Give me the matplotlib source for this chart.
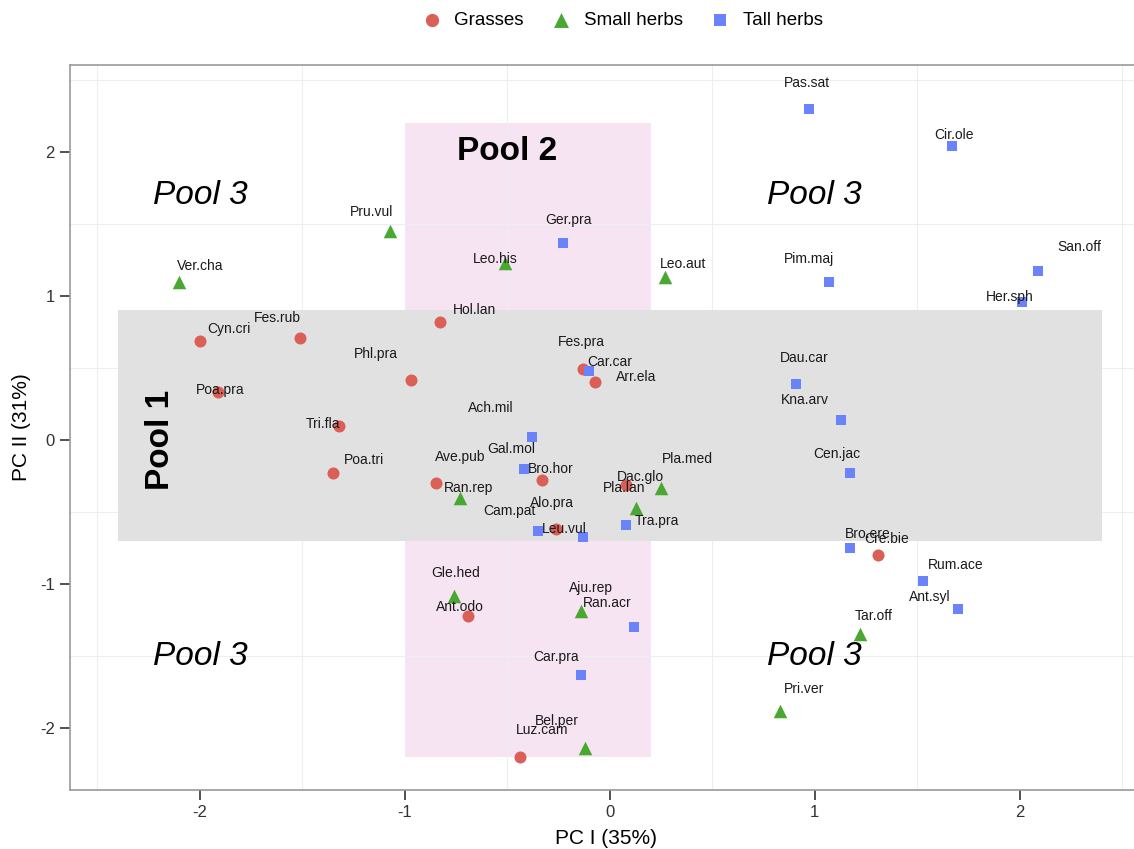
import matplotlib
matplotlib.use("Agg")
import matplotlib.pyplot as plt
from matplotlib.patches import Rectangle
from matplotlib.ticker import MultipleLocator

plt.rcParams['font.family'] = ['Liberation Sans', 'DejaVu Sans']
plt.rcParams['axes.unicode_minus'] = False

# grasses
gr_names = ["Cyn.cri", "Fes.rub", "Poa.pra", "Tri.fla", "Poa.tri", "Phl.pra", "Hol.lan", "Fes.pra",
            "Arr.ela", "Ave.pub", "Bro.hor", "Alo.pra", "Dac.glo", "Ant.odo", "Luz.cam", "Bro.ere"]
gr_x = [-2.00, -1.51, -1.91, -1.32, -1.35, -0.97, -0.83, -0.13, -0.07, -0.85, -0.33, -0.26, 0.08, -0.69, -0.44, 1.31]
gr_y = [0.69, 0.71, 0.33, 0.10, -0.23, 0.42, 0.82, 0.49, 0.40, -0.30, -0.28, -0.62, -0.31, -1.22, -2.20, -0.80]
gr_lx = [-1.86, -1.62, -1.90, -1.40, -1.20, -1.14, -0.66, -0.14, 0.13, -0.73, -0.29, -0.28, 0.15, -0.73, -0.33, 1.26]
gr_ly = [0.77, 0.85, 0.35, 0.11, -0.14, 0.60, 0.90, 0.68, 0.44, -0.12, -0.20, -0.44, -0.26, -1.16, -2.01, -0.65]

# small herbs
sh_names = ["Ver.cha", "Pru.vul", "Leo.his", "Leo.aut", "Ran.rep", "Pla.med", "Pla.lan", "Gle.hed",
            "Aju.rep", "Bel.per", "Tar.off", "Pri.ver"]
sh_x = [-2.10, -1.07, -0.51, 0.27, -0.73, 0.25, 0.13, -0.76, -0.14, -0.12, 1.22, 0.83]
sh_y = [1.10, 1.45, 1.23, 1.13, -0.40, -0.33, -0.47, -1.08, -1.19, -2.14, -1.35, -1.88]
sh_lx = [-2.00, -1.16, -0.56, 0.36, -0.69, 0.38, 0.07, -0.75, -0.09, -0.26, 1.29, 0.95]
sh_ly = [1.21, 1.58, 1.26, 1.22, -0.33, -0.13, -0.33, -0.92, -1.03, -1.95, -1.22, -1.73]

# tall herbs
th_names = ["Pas.sat", "Cir.ole", "Ger.pra", "Pim.maj", "San.off", "Her.sph", "Dau.car", "Kna.arv",
            "Cen.jac", "Car.car", "Ach.mil", "Gal.mol", "Cam.pat", "Leu.vul", "Tra.pra", "Ran.acr",
            "Car.pra", "Cre.bie", "Rum.ace", "Ant.syl"]
th_x = [0.97, 1.67, -0.23, 1.07, 2.09, 2.01, 0.91, 1.13, 1.17, -0.10, -0.38, -0.42, -0.35, -0.13, 0.08, 0.12,
        -0.14, 1.17, 1.53, 1.70]
th_y = [2.30, 2.04, 1.37, 1.10, 1.17, 0.96, 0.39, 0.14, -0.23, 0.48, 0.02, -0.20, -0.63, -0.67, -0.59, -1.30,
        -1.63, -0.75, -0.98, -1.17]
th_lx = [0.96, 1.68, -0.20, 0.97, 2.29, 1.95, 0.95, 0.95, 1.11, 0.00, -0.58, -0.48, -0.49, -0.22, 0.23, -0.01,
         -0.26, 1.35, 1.69, 1.56]
th_ly = [2.48, 2.12, 1.53, 1.26, 1.34, 0.99, 0.57, 0.28, -0.10, 0.54, 0.22, -0.06, -0.49, -0.62, -0.56, -1.13,
         -1.51, -0.69, -0.87, -1.09]

fig = plt.figure(figsize=(11.34, 8.49), dpi=100)
ax = fig.add_axes([0.0617, 0.0695, 0.945, 0.854])
ax.set_xlim(-2.634, 2.595)
ax.set_ylim(-2.43, 2.604)

# pools
ax.add_patch(Rectangle((-1.0, -2.2), 1.2, 4.4, facecolor="#f6e4f2", edgecolor="none", zorder=0.5))
ax.add_patch(Rectangle((-2.4, -0.7), 4.8, 1.6, facecolor="#e1e1e1", edgecolor="none", zorder=0.6))
ax.text(-0.5, 2.0, "Pool 2", fontsize=24, fontweight="bold", ha="center", va="center", zorder=1)
ax.text(-2.19, 0.0, "Pool 1", fontsize=24, fontweight="bold", rotation=90, ha="center", va="center", zorder=1)
for px, py in [(-2.0, 1.7), (1.0, 1.7), (-2.0, -1.5), (1.0, -1.5)]:
    ax.text(px, py, "Pool 3", fontsize=24, style="italic", ha="center", va="center", zorder=1)

ax.scatter(gr_x, gr_y, s=75, marker="o", color="#d95f57", label="Grasses", zorder=2, linewidths=0)
ax.scatter(sh_x, sh_y, s=95, marker="^", color="#48a832", label="Small herbs", zorder=2, linewidths=0)
ax.scatter(th_x, th_y, s=62, marker="s", color="#6a83fa", label="Tall herbs", zorder=2, linewidths=0)

for names, lx, ly in [(gr_names, gr_lx, gr_ly), (sh_names, sh_lx, sh_ly), (th_names, th_lx, th_ly)]:
    for n, a, b in zip(names, lx, ly):
        ax.text(a, b, n, fontsize=10, ha="center", va="center", color="#1a1a1a", zorder=3)

# grid at half steps only
ax.xaxis.set_major_locator(MultipleLocator(1))
ax.yaxis.set_major_locator(MultipleLocator(1))
ax.xaxis.set_minor_locator(MultipleLocator(0.5))
ax.yaxis.set_minor_locator(MultipleLocator(0.5))
ax.grid(which="minor", color="#eeeeee", lw=0.8, zorder=0)
ax.grid(which="major", visible=False)
ax.set_axisbelow(True)
ax.tick_params(which="minor", length=0)
ax.tick_params(which="major", length=7, width=1.2, color="#333333", labelsize=12, labelcolor="#333333", pad=4)
for sp in ax.spines.values():
    sp.set_color("#999999")
    sp.set_linewidth(1.2)
ax.spines["right"].set_visible(False)

ax.set_xlabel("PC I (35%)", fontsize=15, labelpad=6)
ax.set_ylabel("PC II (31%)", fontsize=15, labelpad=6)

fig.legend(*ax.get_legend_handles_labels(), loc="center", bbox_to_anchor=(0.545, 0.976), ncol=3,
           frameon=False, fontsize=13.5, handletextpad=0.2, columnspacing=1.0, markerscale=1.1)

plt.savefig("out.png", dpi=100)
